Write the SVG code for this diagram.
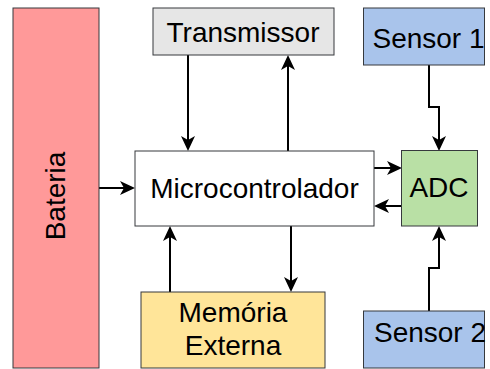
<svg xmlns="http://www.w3.org/2000/svg" width="490" height="369" viewBox="0 0 490 369">
<style>
.box{stroke:#36393d;stroke-width:1}
.t{font-family:"Liberation Sans",Arial,Helvetica,sans-serif;font-size:28px;fill:#000;text-anchor:middle}
.c{fill:none;stroke:#000;stroke-width:2;marker-end:url(#arr)}
</style>
<defs>
<marker id="arr" markerUnits="userSpaceOnUse" viewBox="-4 -7 15 14" markerWidth="15" markerHeight="14" refX="0" refY="0" orient="auto">
<path d="M11,0 L-4,-7 L0,0 L-4,7 Z" fill="#000"/>
</marker>
</defs>
<rect width="490" height="369" fill="#fff"/>
<g id="connectors">
<path class="c" d="M188,55 V140"/>
<path class="c" d="M288,151 V66"/>
<path class="c" d="M99,188 H124"/>
<path class="c" d="M374,168 H391"/>
<path class="c" d="M402,206 H385"/>
<path class="c" d="M429,65 V107 H439 V140"/>
<path class="c" d="M429,311 V268 H439 V237"/>
<path class="c" d="M170,292 V237"/>
<path class="c" d="M291,226 V281"/>
</g>
<g id="bateria">
<rect class="box" x="13" y="8" width="86" height="360" fill="#ff9999"/>
<text class="t" transform="translate(65,196) rotate(-90)">Bateria</text>
</g>
<g id="transmissor">
<rect class="box" x="153" y="8" width="181" height="47" fill="#e6e6e6"/>
<text class="t" x="243" y="41.5">Transmissor</text>
</g>
<g id="sensor1">
<rect class="box" x="363.5" y="8" width="121" height="57" fill="#a9c4eb"/>
<text class="t" x="428.5" y="47.5">Sensor 1</text>
</g>
<g id="microcontrolador">
<rect class="box" x="135" y="151" width="239" height="75" fill="#ffffff"/>
<text class="t" x="254.5" y="197.7">Microcontrolador</text>
</g>
<g id="adc">
<rect class="box" x="401.5" y="150.5" width="76" height="75.5" fill="#b9e0a5"/>
<text class="t" x="439" y="197.3">ADC</text>
</g>
<g id="memoria">
<rect class="box" x="141" y="292" width="184" height="76" fill="#ffe599"/>
<text class="t" x="233" y="321.7">Memória</text>
<text class="t" x="233" y="355">Externa</text>
</g>
<g id="sensor2">
<rect class="box" x="363.5" y="311" width="121" height="57" fill="#a9c4eb"/>
<text class="t" x="430" y="341.7">Sensor 2</text>
</g>
</svg>
